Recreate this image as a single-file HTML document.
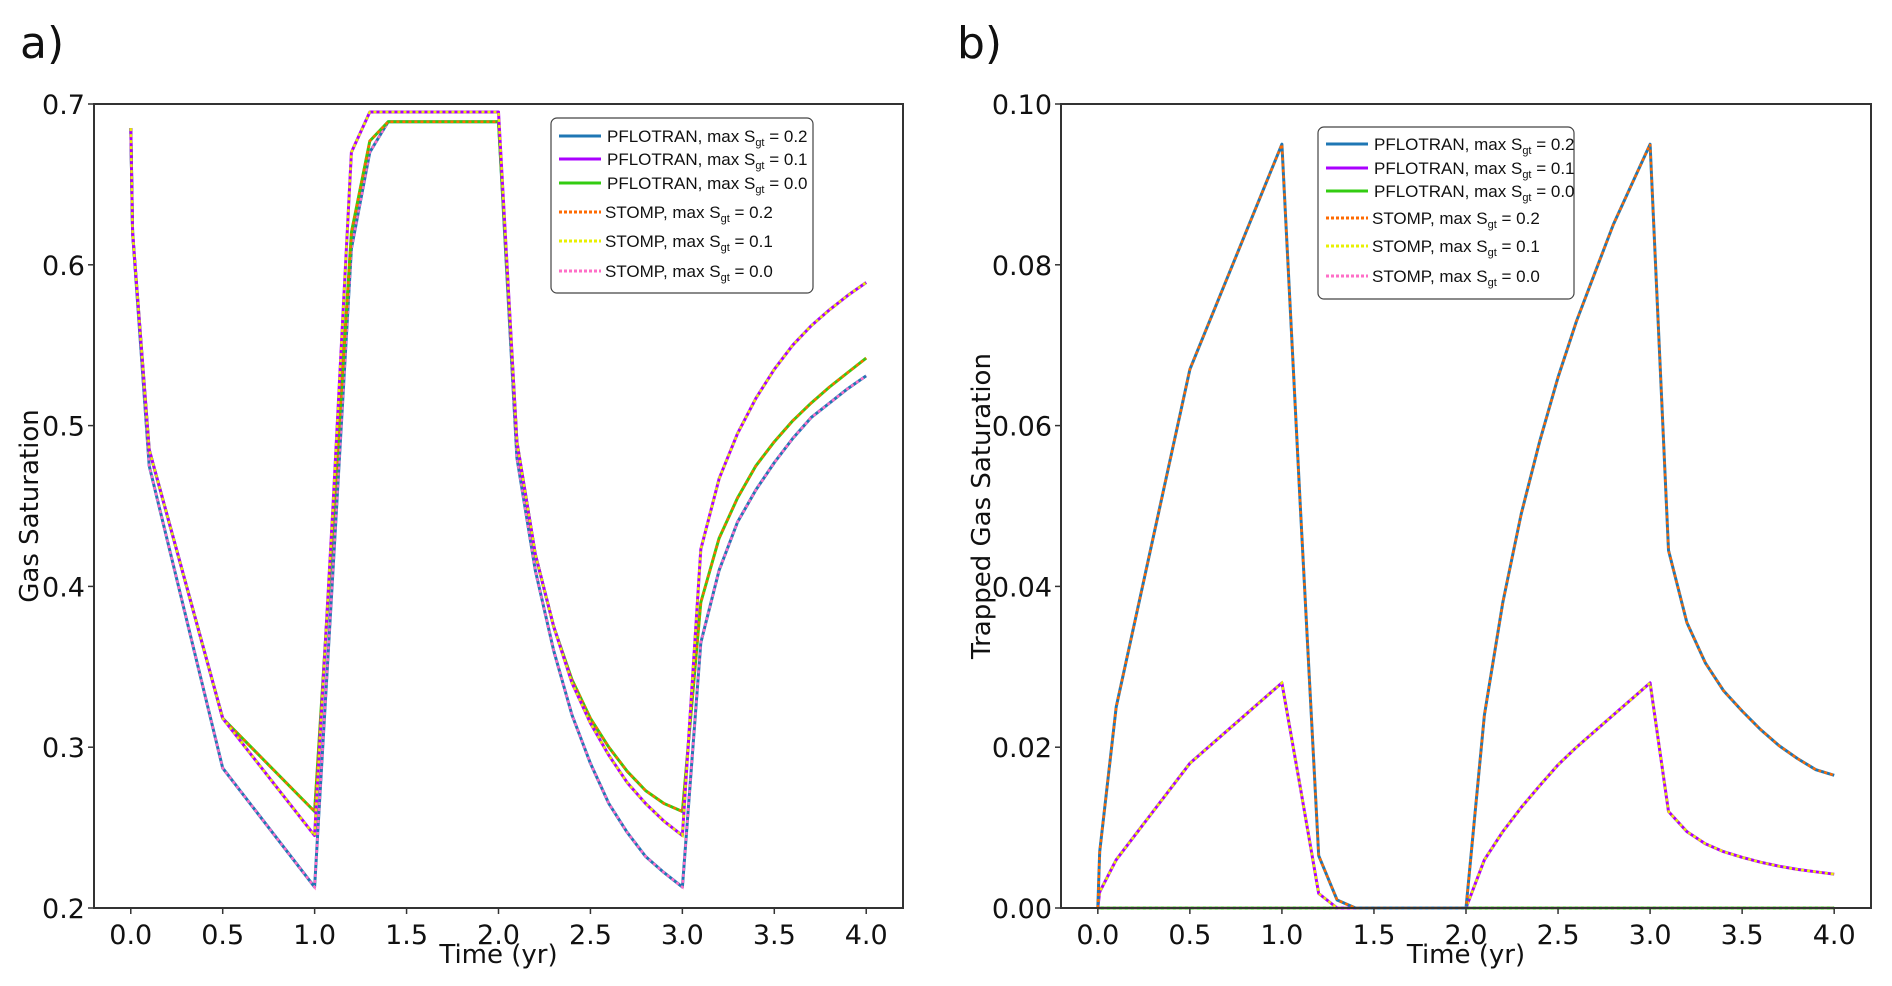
<!DOCTYPE html>
<html><head><meta charset="utf-8"><style>
body{margin:0;background:#fff;}
svg{display:block;font-family:"DejaVu Sans","Liberation Sans",sans-serif;}
</style></head><body>
<svg id="fig" width="1892" height="986"></svg>
<script>
const times=[0,0.01,0.1,0.5,1.0,1.1,1.2,1.3,1.4,2.0,2.1,2.2,2.3,2.4,2.5,2.6,2.7,2.8,2.9,3.0,3.1,3.2,3.3,3.4,3.5,3.6,3.7,3.8,3.9,4.0];
const gasLow=[0.685,0.62,0.475,0.287,0.213,0.41,0.61,0.67,0.689,0.689,0.48,0.41,0.36,0.32,0.29,0.265,0.247,0.232,0.222,0.213,0.365,0.41,0.44,0.46,0.477,0.492,0.505,0.514,0.523,0.531];
const gasMid=[0.685,0.62,0.485,0.318,0.245,0.45,0.67,0.695,0.695,0.695,0.49,0.42,0.375,0.34,0.315,0.295,0.278,0.265,0.254,0.245,0.423,0.467,0.495,0.517,0.535,0.55,0.562,0.572,0.581,0.589];
const gasHigh=[0.685,0.62,0.485,0.318,0.26,0.44,0.62,0.677,0.689,0.689,0.49,0.42,0.375,0.342,0.318,0.3,0.285,0.273,0.265,0.26,0.39,0.43,0.455,0.475,0.49,0.503,0.514,0.524,0.533,0.542];
const trap02=[0,0.007,0.025,0.067,0.095,0.05,0.0065,0.001,0,0,0.024,0.038,0.049,0.058,0.066,0.073,0.079,0.085,0.09,0.095,0.0445,0.0355,0.0305,0.027,0.0245,0.0222,0.0202,0.0186,0.0172,0.0165];
const trap01=[0,0.002,0.006,0.018,0.028,0.015,0.0018,0,0,0,0.006,0.0095,0.0125,0.0152,0.0178,0.02,0.022,0.024,0.026,0.028,0.012,0.0095,0.008,0.007,0.0063,0.0057,0.0052,0.0048,0.0045,0.0042];
const trap00=[0,0,0,0,0,0,0,0,0,0,0,0,0,0,0,0,0,0,0,0,0,0,0,0,0,0,0,0,0,0];
const xTicks=[0,0.5,1,1.5,2,2.5,3,3.5,4];
const yTicksA=[0.2,0.3,0.4,0.5,0.6,0.7];
const yTicksB=[0,0.02,0.04,0.06,0.08,0.10];
const legendLabels=["PFLOTRAN, max S","PFLOTRAN, max S","PFLOTRAN, max S","STOMP, max S","STOMP, max S","STOMP, max S"];
const legendVals=["0.2","0.1","0.0","0.2","0.1","0.0"];

const C={blue:"#1f77b4",purple:"#aa00ff",green:"#33cc11",orange:"#ff6a00",yellow:"#e8f000",pink:"#ff6ec7"};
const NS="http://www.w3.org/2000/svg";
const svg=document.getElementById('fig');
function mk(tag,attrs,parent){const e=document.createElementNS(NS,tag);for(const k in attrs)e.setAttribute(k,attrs[k]);(parent||svg).appendChild(e);return e;}

function panel(o){
  const g=mk('g',{});
  
  
  const L=o.l,R=o.r,T=104,B=908;
  const x=v=>L+(v-(-0.2))/(4.4)*(R-L);
  const y=v=>B-(v-o.ymin)/(o.ymax-o.ymin)*(B-T);
  o.series.forEach(s=>{
    const d=times.map((t,i)=>(i?'L':'M')+x(t).toFixed(1)+','+y(s.vals[i]).toFixed(1)).join('');
    const p=mk('path',{d:d,fill:'none',stroke:s.solid,'stroke-width':3,'stroke-linejoin':'round'},g);
    
    
    const q=mk('path',{d:d,fill:'none',stroke:s.dot,'stroke-width':2.5,'stroke-dasharray':'3 3'},g);
    
    
  });
  const f=mk('rect',{x:L,y:T,width:R-L,height:B-T,fill:'none',stroke:'#333','stroke-width':2},g);
  
  
  xTicks.forEach(v=>{
    mk('line',{x1:x(v),x2:x(v),y1:B,y2:B+6,stroke:'#333','stroke-width':1.5},g);
    const t=mk('text',{x:x(v),y:B+36,'text-anchor':'middle','font-size':27,fill:'#111'},g);
    t.textContent=v.toFixed(1);
    
    
  });
  o.yt.forEach(v=>{
    mk('line',{x1:L-6,x2:L,y1:y(v),y2:y(v),stroke:'#333','stroke-width':1.5},g);
    const t=mk('text',{x:L-9,y:y(v)+10,'text-anchor':'end','font-size':27,fill:'#111'},g);
    t.textContent=v.toFixed(o.dec);
    
    
  });
  const xt=mk('text',{x:(L+R)/2,y:963,'text-anchor':'middle','font-size':26,fill:'#111'},g);
  xt.textContent='Time (yr)';
  
  
  const yt=mk('text',{x:0,y:0,'text-anchor':'middle','font-size':26,fill:'#111',transform:`translate(${o.ytx},${(T+B)/2}) rotate(-90)`},g);
  yt.textContent=o.ytitle;
  
  
  const pl=mk('text',{x:o.lx,y:58,'font-size':44,fill:'#111'},g);
  pl.textContent=o.label;
  
  
  const lg=mk('g',{},g);
  
  
  mk('rect',{x:o.lgx,y:o.lgy,width:o.lgw,height:o.lgh,rx:6,fill:'#fff',stroke:'#444','stroke-width':1.2},lg);
  const cols=[C.blue,C.purple,C.green,C.orange,C.yellow,C.pink];
  o.rows.forEach((dy,i)=>{
    const yy=o.lgy+dy;
    mk('line',{x1:o.lgx+8,x2:o.lgx+50,y1:yy,y2:yy,stroke:cols[i],'stroke-width':3,'stroke-dasharray':i<3?'none':'3 2'},lg);
    const t=mk('text',{x:o.lgx+(i<3?56:54),y:yy+6,'font-size':17,fill:'#111','font-family':'"Liberation Sans",sans-serif'},lg);
    
    
    t.textContent=legendLabels[i];
    const sub=mk('tspan',{'font-size':11,dy:4},t);sub.textContent='gt';
    const eq=mk('tspan',{dy:-4},t);eq.textContent=' = '+legendVals[i];
  });
}

panel({name:'panel-a',l:94,r:903,ymin:0.2,ymax:0.7,yt:yTicksA,dec:1,ytitle:'Gas Saturation',ytx:38,label:'a)',lx:20,
  lgx:551,lgy:118,lgw:262,lgh:175,rows:[18,41,65,94,123,153],
  series:[{name:'sgt-0.2',vals:gasLow,solid:C.blue,dot:C.pink},
          {name:'sgt-0.0',vals:gasHigh,solid:C.green,dot:C.orange},
          {name:'sgt-0.1',vals:gasMid,solid:C.purple,dot:C.yellow}]});
panel({name:'panel-b',l:1061,r:1871,ymin:0,ymax:0.1,yt:yTicksB,dec:2,ytitle:'Trapped Gas Saturation',ytx:990,label:'b)',lx:957,
  lgx:1318,lgy:127,lgw:256,lgh:172,rows:[17,41,64,91,119,149],
  series:[{name:'sgt-0.0',vals:trap00,solid:C.green,dot:C.pink},
          {name:'sgt-0.1',vals:trap01,solid:C.purple,dot:C.yellow},
          {name:'sgt-0.2',vals:trap02,solid:C.blue,dot:C.orange}]});
</script>
</body></html>
